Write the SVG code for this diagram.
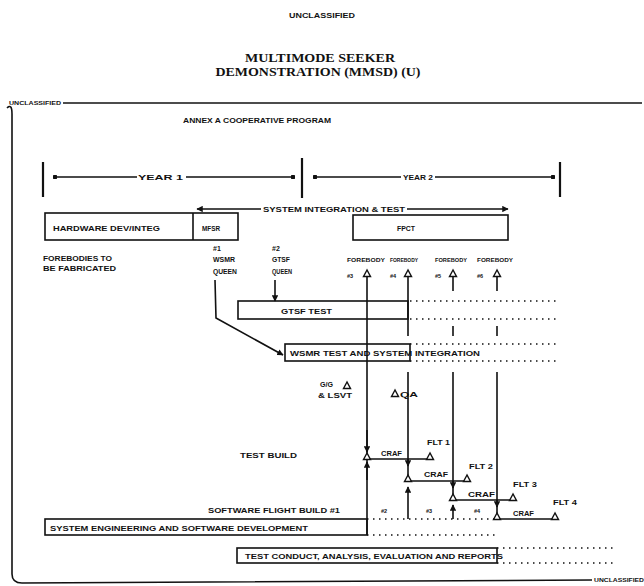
<svg xmlns="http://www.w3.org/2000/svg" width="644" height="586" viewBox="0 0 644 586">
<defs>
<style>
.t{font-family:"Liberation Sans",Arial,sans-serif;font-weight:bold;fill:#111}
.ti{font-family:"Liberation Serif","Times New Roman",serif;font-weight:bold;fill:#111;font-size:13px}
.s8{font-size:8px}
.s7{font-size:7px}
.s6{font-size:5.5px}
.ln{stroke:#111;stroke-width:1.6;fill:none}
.th{stroke:#111;stroke-width:2.2;fill:none}
.dt{stroke:#111;stroke-width:1.6;fill:none;stroke-dasharray:1.5 4.5}
.bx{fill:#fff;stroke:#111;stroke-width:1.6}
</style>
<marker id="ah" viewBox="0 0 10 10" refX="9" refY="5" markerWidth="4" markerHeight="4" orient="auto-start-reverse"><path d="M0,0 L10,5 L0,10 Z" fill="#111"/></marker>
<marker id="dot" viewBox="0 0 10 10" refX="5" refY="5" markerWidth="3" markerHeight="3"><circle cx="5" cy="5" r="5" fill="#111"/></marker>
<path id="tri" d="M0,-6 L-3.5,0.5 L3.5,0.5 Z" fill="#fff" stroke="#111" stroke-width="1.4"/>
</defs>
<rect width="644" height="586" fill="#fff"/>

<g id="header">
<text class="t s8" x="322" y="18" text-anchor="middle" textLength="66" lengthAdjust="spacingAndGlyphs">UNCLASSIFIED</text>
<text class="ti" x="320" y="62" text-anchor="middle" textLength="150" lengthAdjust="spacingAndGlyphs">MULTIMODE SEEKER</text>
<text class="ti" x="318" y="76" text-anchor="middle" textLength="205" lengthAdjust="spacingAndGlyphs">DEMONSTRATION (MMSD) (U)</text>
</g>

<g id="frame">
<path class="ln" d="M63,103 L642,103"/>
<path class="ln" d="M7,108 Q12,103 12,114 L12,574 Q12,583 22,583 L592,580"/>
<text class="t" x="9" y="105" font-size="5.5" textLength="52" lengthAdjust="spacingAndGlyphs">UNCLASSIFIED</text>
<text class="t" x="594" y="582" font-size="5.5" textLength="50" lengthAdjust="spacingAndGlyphs">UNCLASSIFIED</text>
<text class="t s8" x="183" y="123" textLength="148" lengthAdjust="spacingAndGlyphs">ANNEX A COOPERATIVE PROGRAM</text>
</g>

<g id="years">
<path class="th" d="M43,162 L43,197 M302,158 L302,198 M560,162 L560,197"/>
<path class="ln" d="M55,177 L137,177 M186,177 L293,177" marker-start="url(#dot)" marker-end="url(#dot)"/>
<text class="t s7" x="138" y="180" textLength="45" lengthAdjust="spacingAndGlyphs">YEAR 1</text>
<path class="ln" d="M315,177 L401,177 M435,177 L553,177" marker-start="url(#dot)" marker-end="url(#dot)"/>
<text class="t s7" x="403" y="180" textLength="30" lengthAdjust="spacingAndGlyphs">YEAR 2</text>
</g>

<g id="sit">
<path class="ln" d="M197,209 L261,209 M407,209 L508,209" marker-start="url(#ah)" marker-end="url(#ah)"/>
<text class="t s7" x="263" y="212" textLength="142" lengthAdjust="spacingAndGlyphs">SYSTEM INTEGRATION &amp; TEST</text>
</g>

<g id="hw">
<rect class="bx" x="45" y="213" width="193" height="27"/>
<path class="ln" d="M193,213 L193,240"/>
<text class="t s7" x="53" y="231" textLength="107" lengthAdjust="spacingAndGlyphs">HARDWARE DEV/INTEG</text>
<text class="t s7" x="202" y="231" textLength="18" lengthAdjust="spacingAndGlyphs">MFSR</text>
</g>

<g id="fpct">
<rect class="bx" x="353" y="215" width="155" height="25"/>
<text class="t s7" x="397" y="231" textLength="18" lengthAdjust="spacingAndGlyphs">FPCT</text>
</g>

<g id="labels">
<text class="t s7" x="43" y="261" textLength="69" lengthAdjust="spacingAndGlyphs">FOREBODIES TO</text>
<text class="t s7" x="43" y="271" textLength="73" lengthAdjust="spacingAndGlyphs">BE FABRICATED</text>
<text class="t s7" x="213" y="251">#1</text>
<text class="t s7" x="213" y="262" textLength="22" lengthAdjust="spacingAndGlyphs">WSMR</text>
<text class="t s7" x="213" y="274" textLength="24" lengthAdjust="spacingAndGlyphs">QUEEN</text>
<text class="t s7" x="272" y="251">#2</text>
<text class="t s7" x="272" y="262" textLength="18" lengthAdjust="spacingAndGlyphs">GTSF</text>
<text class="t s7" x="272" y="274" textLength="20" lengthAdjust="spacingAndGlyphs">QUEEN</text>
<text class="t s6" x="347" y="262" textLength="38" lengthAdjust="spacingAndGlyphs">FOREBODY</text>
<text class="t s6" x="390" y="262" textLength="28" lengthAdjust="spacingAndGlyphs">FOREBODY</text>
<text class="t s6" x="435" y="262" textLength="32" lengthAdjust="spacingAndGlyphs">FOREBODY</text>
<text class="t s6" x="477" y="262" textLength="36" lengthAdjust="spacingAndGlyphs">FOREBODY</text>
<text class="t s6" x="347" y="278">#3</text>
<text class="t s6" x="390" y="278">#4</text>
<text class="t s6" x="435" y="278">#5</text>
<text class="t s6" x="477" y="278">#6</text>
</g>

<g id="gtsf">
<rect class="bx" x="238" y="301" width="170" height="18"/>
<text class="t s7" x="281" y="314" textLength="51" lengthAdjust="spacingAndGlyphs">GTSF TEST</text>
</g>

<g id="wsmr">
<rect class="bx" x="285" y="344" width="125" height="17"/>
<text class="t s7" x="290" y="356" textLength="190" lengthAdjust="spacingAndGlyphs">WSMR TEST AND SYSTEM INTEGRATION</text>
</g>

<g id="se">
<rect class="bx" x="45" y="519" width="322" height="16"/>
<text class="t s7" x="50" y="531" textLength="258" lengthAdjust="spacingAndGlyphs">SYSTEM ENGINEERING AND SOFTWARE DEVELOPMENT</text>
</g>

<g id="tc">
<rect class="bx" x="237" y="548" width="260" height="15"/>
<text class="t s7" x="245" y="559" textLength="258" lengthAdjust="spacingAndGlyphs">TEST CONDUCT, ANALYSIS, EVALUATION AND REPORTS</text>
</g>

<g id="milestones">
<text class="t s7" x="320" y="387" textLength="13" lengthAdjust="spacingAndGlyphs">G/G</text>
<text class="t s7" x="318" y="398" textLength="34" lengthAdjust="spacingAndGlyphs">&amp; LSVT</text>
<use href="#tri" x="347" y="388"/>
<use href="#tri" x="395" y="396"/>
<text class="t s7" x="400" y="397" textLength="18" lengthAdjust="spacingAndGlyphs">QA</text>
<text class="t s7" x="240" y="458" textLength="57" lengthAdjust="spacingAndGlyphs">TEST BUILD</text>
<text class="t s7" x="208" y="513" textLength="132" lengthAdjust="spacingAndGlyphs">SOFTWARE FLIGHT BUILD #1</text>
<text class="t s6" x="381" y="513">#2</text>
<text class="t s6" x="426" y="513">#3</text>
<text class="t s6" x="474" y="513">#4</text>
<text class="t s7" x="381" y="456" textLength="21" lengthAdjust="spacingAndGlyphs">CRAF</text>
<text class="t s7" x="427" y="445" textLength="23" lengthAdjust="spacingAndGlyphs">FLT 1</text>
<text class="t s7" x="424" y="477" textLength="24" lengthAdjust="spacingAndGlyphs">CRAF</text>
<text class="t s7" x="469" y="469" textLength="24" lengthAdjust="spacingAndGlyphs">FLT 2</text>
<text class="t s7" x="468" y="497" textLength="27" lengthAdjust="spacingAndGlyphs">CRAF</text>
<text class="t s7" x="513" y="487" textLength="24" lengthAdjust="spacingAndGlyphs">FLT 3</text>
<text class="t s7" x="513" y="516" textLength="21" lengthAdjust="spacingAndGlyphs">CRAF</text>
<text class="t s7" x="553" y="505" textLength="24" lengthAdjust="spacingAndGlyphs">FLT 4</text>
</g>

<g id="connectors">
<path class="ln" d="M215,280 L216,318 L283,355" marker-end="url(#ah)"/>
<path class="ln" d="M275,280 L275,301" marker-end="url(#ah)"/>
<path class="ln" d="M367,276 L367,535"/>
<path class="ln" d="M408,276 L408,336 M408,372 L408,481"/>
<path class="ln" d="M453,276 L453,291 M453,326 L453,336 M453,372 L453,500"/>
<path class="ln" d="M497,276 L497,291 M497,326 L497,336 M497,372 L497,519"/>
<path class="ln" d="M367,430 L367,452" marker-end="url(#ah)"/>
<path class="ln" d="M367,480 L367,462" marker-end="url(#ah)"/>
<path class="ln" d="M408,459 L408,466" marker-end="url(#ah)"/>
<path class="ln" d="M408,519 L408,487" marker-end="url(#ah)"/>
<path class="ln" d="M453,481 L453,488" marker-end="url(#ah)"/>
<path class="ln" d="M453,519 L453,505" marker-end="url(#ah)"/>
<path class="ln" d="M497,500 L497,507" marker-end="url(#ah)"/>
<path class="ln" d="M367,459 L430,459 M408,481 L467,481 M453,500 L513,500 M497,519 L555,519"/>
<path class="dt" d="M410,301 L560,301 M410,319 L560,319 M410,344 L560,344 M410,361 L560,361 M367,519 L497,519 M367,535 L497,535 M497,548 L615,548 M497,563 L615,563"/>
<use href="#tri" x="367" y="276"/>
<use href="#tri" x="408" y="276"/>
<use href="#tri" x="453" y="276"/>
<use href="#tri" x="497" y="276"/>
<use href="#tri" x="367" y="459"/>
<use href="#tri" x="430" y="459"/>
<use href="#tri" x="408" y="481"/>
<use href="#tri" x="467" y="481"/>
<use href="#tri" x="453" y="500"/>
<use href="#tri" x="513" y="500"/>
<use href="#tri" x="497" y="519"/>
<use href="#tri" x="555" y="519"/>
</g>
</svg>
